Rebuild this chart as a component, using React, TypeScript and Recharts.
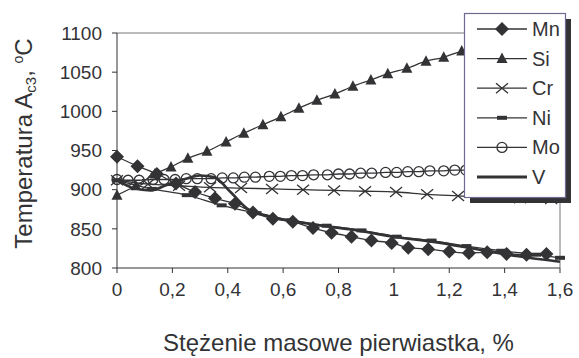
import React from "react";
import {
  Label,
  Line,
  LineChart,
  ReferenceLine,
  XAxis,
  YAxis,
} from "recharts";

const INK = "#333336";

// values (x = mass %, y = Ac3 in °C)
const mnX = [0, 0.074, 0.144, 0.213, 0.282, 0.354, 0.426, 0.491, 0.563, 0.635, 0.708, 0.775, 0.847, 0.919, 0.992, 1.052, 1.124, 1.2, 1.271, 1.337, 1.407, 1.479, 1.551];
const mnY = [942, 930, 920, 908, 897, 889, 882, 871, 863, 859, 851, 845, 840, 835, 832, 826, 824, 821, 819, 820, 818, 817, 818];

const siX = [0, 0.068, 0.137, 0.195, 0.256, 0.325, 0.394, 0.458, 0.527, 0.592, 0.657, 0.722, 0.787, 0.852, 0.917, 0.978, 1.047, 1.116, 1.18, 1.245, 1.31, 1.38];
const siY = [893, 905, 920, 929, 940, 949, 961, 972, 983, 993, 1004, 1014, 1022, 1032, 1040, 1048, 1055, 1064, 1069, 1077, 1083, 1090];

const crX = [0, 0.112, 0.224, 0.336, 0.448, 0.56, 0.672, 0.784, 0.896, 1.008, 1.12, 1.232, 1.344, 1.456, 1.568];
const crY = [912, 907, 905, 903, 902, 901, 900, 899, 898, 897, 894, 892, 890, 889, 888];

const niX = [0, 0.126, 0.252, 0.378, 0.504, 0.63, 0.757, 0.883, 1.01, 1.136, 1.262, 1.388, 1.514, 1.6];
const niY = [912, 901, 893, 880, 870, 861, 854, 848, 840, 835, 828, 822, 817, 813];

const moX = [0, 0.04, 0.08, 0.13, 0.17, 0.21, 0.25, 0.29, 0.34, 0.38, 0.42, 0.46, 0.5, 0.55, 0.59, 0.63, 0.67, 0.71, 0.76, 0.8, 0.84, 0.88, 0.92, 0.97, 1.01, 1.05, 1.09, 1.13, 1.18, 1.22, 1.26, 1.3, 1.34, 1.39, 1.43, 1.47, 1.51, 1.55];
const moY = [913, 912, 912, 913, 913, 913, 914, 914, 914, 915, 915, 916, 916, 917, 917, 918, 918, 919, 919, 920, 920, 921, 921, 922, 922, 923, 923, 924, 924, 925, 925, 925, 926, 926, 926, 927, 927, 927];

const vX = [0, 0.06, 0.12, 0.18, 0.24, 0.3, 0.35, 0.41, 0.47, 0.55, 0.7, 0.85, 1.0, 1.15, 1.3, 1.45, 1.6];
const vY = [912, 902, 899, 906, 913, 918, 916, 897, 876, 866, 856, 849, 840, 833, 824, 815, 808];

const xTicks = [0, 0.2, 0.4, 0.6, 0.8, 1, 1.2, 1.4, 1.6];
const yTicks = [800, 850, 900, 950, 1000, 1050, 1100];

const legendNames = ["Mn", "Si", "Cr", "Ni", "Mo", "V"];

const pts = (xs: number[], ys: number[]) => xs.map((x, i) => ({ x, y: ys[i] }));

type Shape = "diamond" | "triangle" | "cross" | "dash" | "circle" | "none";

function marker(shape: Shape, cx: number, cy: number, key?: React.Key) {
  switch (shape) {
    case "diamond":
      return (
        <polygon
          key={key}
          points={`${cx},${cy - 7} ${cx + 7},${cy} ${cx},${cy + 7} ${cx - 7},${cy}`}
          fill={INK}
        />
      );
    case "triangle":
      return (
        <polygon
          key={key}
          points={`${cx},${cy - 6} ${cx + 5.5},${cy + 4.5} ${cx - 5.5},${cy + 4.5}`}
          fill={INK}
        />
      );
    case "cross":
      return (
        <path
          key={key}
          d={`M${cx - 6},${cy - 5}L${cx + 6},${cy + 5}M${cx - 6},${cy + 5}L${cx + 6},${cy - 5}`}
          stroke={INK}
          strokeWidth={1.3}
          fill="none"
        />
      );
    case "dash":
      return <rect key={key} x={cx - 5} y={cy - 2} width={10} height={4} fill={INK} />;
    case "circle":
      return <circle key={key} cx={cx} cy={cy} r={5} fill="none" stroke={INK} strokeWidth={1.3} />;
    default:
      return <g key={key} />;
  }
}

const dotOf = (shape: Shape) => (p: any) => marker(shape, p.cx, p.cy, p.index);

const series: { name: string; data: { x: number; y: number }[]; shape: Shape; width: number }[] = [
  { name: "Mo", data: pts(moX, moY), shape: "circle", width: 1.3 },
  { name: "Cr", data: pts(crX, crY), shape: "cross", width: 1.3 },
  { name: "V", data: pts(vX, vY), shape: "none", width: 2.6 },
  { name: "Ni", data: pts(niX, niY), shape: "dash", width: 1.3 },
  { name: "Si", data: pts(siX, siY), shape: "triangle", width: 1.3 },
  { name: "Mn", data: pts(mnX, mnY), shape: "diamond", width: 1.3 },
];

const legendShape: Record<string, Shape> = {
  Mn: "diamond",
  Si: "triangle",
  Cr: "cross",
  Ni: "dash",
  Mo: "circle",
  V: "none",
};

function LegendBox() {
  return (
    <svg
      width={120}
      height={200}
      style={{ position: "absolute", left: 460, top: 9 }}
    >
      <rect x={10} y={10} width={101} height={184} fill={INK} />
      <rect x={4.5} y={4.5} width={101} height={184} fill="#fff" stroke="#6e6a94" strokeWidth={1.2} />
      {legendNames.map((n, i) => {
        const cy = 20 + i * 29.6;
        return (
          <g key={n}>
            <line
              x1={17}
              x2={67}
              y1={cy}
              y2={cy}
              stroke={INK}
              strokeWidth={n === "V" ? 3 : 1.3}
            />
            {marker(legendShape[n], 42, cy)}
            <text x={72} y={cy + 7} fontSize={20} fill={INK}>
              {n}
            </text>
          </g>
        );
      })}
    </svg>
  );
}

export default function App() {
  return (
    <div
      style={{
        position: "absolute",
        left: 0,
        top: 0,
        width: 579,
        height: 358,
        background: "#fff",
        fontFamily: '"Liberation Sans", Arial, sans-serif',
      }}
    >
      <LineChart
        width={579}
        height={358}
        margin={{ top: 33, right: 19, left: 0, bottom: 0 }}
      >
        <XAxis
          type="number"
          dataKey="x"
          domain={[0, 1.6]}
          ticks={xTicks}
          tickFormatter={(v) => String(v).replace(".", ",")}
          height={90}
          stroke={INK}
          tickSize={5}
          tickMargin={10}
          tick={{ fill: INK, fontSize: 19 }}
        >
          <Label
            content={(p: any) => (
              <text
                x={p.viewBox.x + p.viewBox.width / 2}
                y={p.viewBox.y + 83}
                textAnchor="middle"
                fontSize={24}
                fill={INK}
              >
                Stężenie masowe pierwiastka, %
              </text>
            )}
          />
        </XAxis>
        <YAxis
          type="number"
          dataKey="y"
          domain={[800, 1100]}
          ticks={yTicks}
          width={117}
          stroke={INK}
          tickSize={5}
          tickMargin={10}
          tick={{ fill: INK, fontSize: 19 }}
        >
          <Label
            content={(p: any) => {
              const x = 32;
              const y = p.viewBox.y + p.viewBox.height / 2 - 7;
              return (
                <text
                  x={x}
                  y={y}
                  transform={`rotate(-90, ${x}, ${y})`}
                  textAnchor="middle"
                  fontSize={24}
                  fill={INK}
                >
                  <tspan>Temperatura A</tspan>
                  <tspan fontSize={15} dy={4}>c3</tspan>
                  <tspan dy={-4}>, </tspan>
                  <tspan fontSize={14} dy={-9}>o</tspan>
                  <tspan dy={9}>C</tspan>
                </text>
              );
            }}
          />
        </YAxis>
        <ReferenceLine y={1100} stroke="#77777c" strokeWidth={1} />
        <ReferenceLine x={1.6} stroke="#77777c" strokeWidth={1} />
        {series.map((s) => (
          <Line
            key={s.name}
            name={s.name}
            data={s.data}
            dataKey="y"
            type="monotone"
            stroke={INK}
            strokeWidth={s.width}
            dot={s.shape === "none" ? false : dotOf(s.shape)}
            activeDot={false}
            isAnimationActive={false}
          />
        ))}
      </LineChart>
      <LegendBox />
    </div>
  );
}
